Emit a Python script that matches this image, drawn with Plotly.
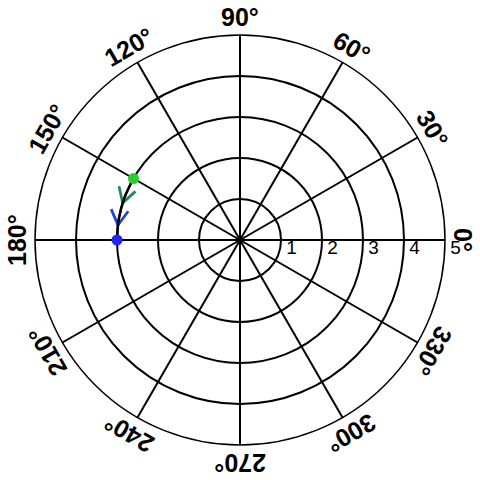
import math
import plotly.graph_objects as go

# ---- data ----
path_theta = [150, 160, 170, 180]
path_r = [3, 3, 3, 3]
start_color = "#2ecc2e"
end_color = "#2424ff"

arrow_theta = [162.5, 173]
arrow_r = [3, 3]
arrow_colors = ["#1f8a60", "#2244cc"]

radial_ticks = [1, 2, 3, 4, 5]
radial_labels = ["1", "2", "3", "4", "5"]
angular_ticks = [0, 30, 60, 90, 120, 150, 180, 210, 240, 270, 300, 330]
angular_labels = [f"{a}°" for a in angular_ticks]

# ---- style / layout constants ----
W = H = 480
M = 35
plot_px = W - 2 * M
label_radius_px = 223
head_len = 0.42      # arrowhead arm length, radial units
head_half = 30       # arrowhead half-angle, degrees


def arrow_head(r0, th0_deg):
    th = math.radians(th0_deg)
    vx, vy = r0 * math.cos(th), r0 * math.sin(th)
    bx, by = math.sin(th), -math.cos(th)  # backwards along counterclockwise travel
    rs, ts = [], []
    for s in (1, -1):
        a = s * math.radians(head_half)
        ux = bx * math.cos(a) - by * math.sin(a)
        uy = bx * math.sin(a) + by * math.cos(a)
        px, py = vx + head_len * ux, vy + head_len * uy
        rs.append(math.hypot(px, py))
        ts.append(math.degrees(math.atan2(py, px)) % 360)
    return [rs[0], r0, rs[1]], [ts[0], th0_deg, ts[1]]


fig = go.Figure()

fig.add_trace(go.Scatterpolar(
    r=radial_ticks,
    theta=[0] * len(radial_ticks),
    mode="text",
    text=["\u00a0" + t for t in radial_labels],
    textposition="bottom right",
    textfont=dict(family="Liberation Sans, Arial", size=19, color="black"),
    hoverinfo="skip",
    showlegend=False,
))

for ar, at, ac in zip(arrow_r, arrow_theta, arrow_colors):
    rr, tt = arrow_head(ar, at)
    fig.add_trace(go.Scatterpolar(
        r=rr, theta=tt, mode="lines",
        line=dict(color=ac, width=2.8),
        hoverinfo="skip", showlegend=False,
    ))

fig.add_trace(go.Scatterpolar(
    r=path_r,
    theta=path_theta,
    mode="lines",
    line=dict(color="black", width=2.6, shape="spline"),
    showlegend=False,
))

fig.add_trace(go.Scatterpolar(
    r=[path_r[0], path_r[-1]],
    theta=[path_theta[0], path_theta[-1]],
    mode="markers",
    marker=dict(size=11, color=[start_color, end_color]),
    showlegend=False,
))

annotations = []
for a, lab in zip(angular_ticks, angular_labels):
    rad = math.radians(a)
    annotations.append(dict(
        x=0.5 + label_radius_px * math.cos(rad) / plot_px,
        y=0.5 + label_radius_px * math.sin(rad) / plot_px,
        xref="paper", yref="paper",
        text=lab,
        showarrow=False,
        xanchor="center", yanchor="middle",
        textangle=90 - a,
        font=dict(family="Liberation Sans, Arial", size=25, color="black", weight="bold"),
    ))

fig.update_layout(
    width=W, height=H,
    margin=dict(l=M, r=M, t=M, b=M),
    paper_bgcolor="white",
    plot_bgcolor="white",
    showlegend=False,
    annotations=annotations,
    polar=dict(
        domain=dict(x=[0, 1], y=[0, 1]),
        bgcolor="white",
        angularaxis=dict(
            direction="counterclockwise",
            rotation=0,
            tickmode="array",
            tickvals=angular_ticks,
            showticklabels=False,
            ticks="",
            showgrid=True,
            gridcolor="black",
            gridwidth=1.5,
            showline=True,
            linecolor="black",
            linewidth=1.5,
        ),
        radialaxis=dict(
            range=[0, 5],
            tickmode="array",
            tickvals=radial_ticks,
            showticklabels=False,
            ticks="",
            showgrid=True,
            gridcolor="black",
            gridwidth=1.5,
            showline=False,
            angle=0,
        ),
    ),
)

fig.write_html("out.html", config={"displayModeBar": False},
               post_script="document.body.style.margin='0';")
